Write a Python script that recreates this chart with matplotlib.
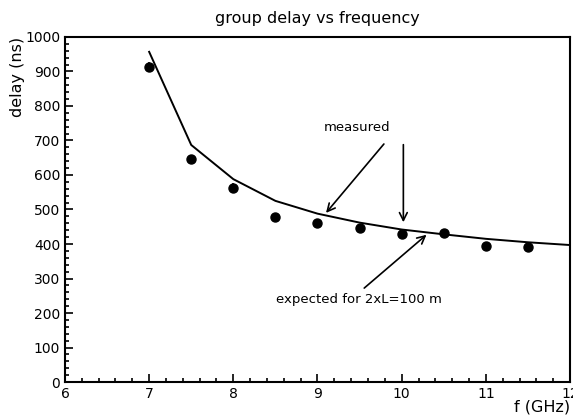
import numpy as np
import matplotlib
matplotlib.use("Agg")
import matplotlib.pyplot as plt
from matplotlib.ticker import MultipleLocator

# measured points (GHz, ns)
f_meas = [7.0, 7.5, 8.0, 8.5, 9.0, 9.5, 10.0, 10.5, 11.0, 11.5]
delay_meas = [913, 646, 562, 478, 461, 446, 429, 432, 394, 391]
delay_err = [14, 12, 14, 10, 12, 12, 10, 12, 10, 8]

# expected curve for 2xL = 100 m
f_exp = [7.0, 7.5, 8.0, 8.5, 9.0, 9.5, 10.0, 10.5, 11.0, 11.5, 12.0]
delay_exp = [957, 687, 588, 525, 488, 462, 442, 428, 415, 405, 397]

plt.rcParams['font.family'] = ['DejaVu Sans']

fig = plt.figure(figsize=(5.73, 4.19), dpi=100)
ax = fig.add_axes([0.1134, 0.0883, 0.8814, 0.8234])

ax.plot(f_exp, delay_exp, color='black', lw=1.4)
ax.errorbar(f_meas, delay_meas, yerr=delay_err, fmt='o', color='black',
            ms=6.5, elinewidth=1.2, capsize=0)

ax.set_xlim(6, 12)
ax.set_ylim(0, 1000)
ax.xaxis.set_major_locator(MultipleLocator(1))
ax.xaxis.set_minor_locator(MultipleLocator(0.2))
ax.yaxis.set_major_locator(MultipleLocator(100))
ax.yaxis.set_minor_locator(MultipleLocator(20))
ax.tick_params(which='both', direction='in', top=False, right=False,
               labelsize=10, width=1.2)
ax.tick_params(which='major', length=6)
ax.tick_params(which='minor', length=3)
for s in ax.spines.values():
    s.set_linewidth(1.5)

ax.set_title("group delay vs frequency", fontsize=11.5, pad=10)
ax.set_xlabel("f (GHz)", fontsize=11.5, loc='right', labelpad=-1)
ax.set_ylabel("delay (ns)", fontsize=11.5, loc='top', labelpad=0)

arrow = dict(arrowstyle='->', color='black', lw=1.2, mutation_scale=14)
ax.text(9.47, 739, "measured", ha='center', va='center', fontsize=9.5)
ax.annotate("", xy=(9.08, 484), xytext=(9.81, 696), arrowprops=arrow)
ax.annotate("", xy=(10.02, 455), xytext=(10.02, 696), arrowprops=arrow)
ax.annotate("", xy=(10.32, 432), xytext=(9.53, 267), arrowprops=arrow)
ax.text(8.51, 238, "expected for 2xL=100 m", ha='left', va='center', fontsize=9.5)

fig.savefig("out.png", dpi=100)
